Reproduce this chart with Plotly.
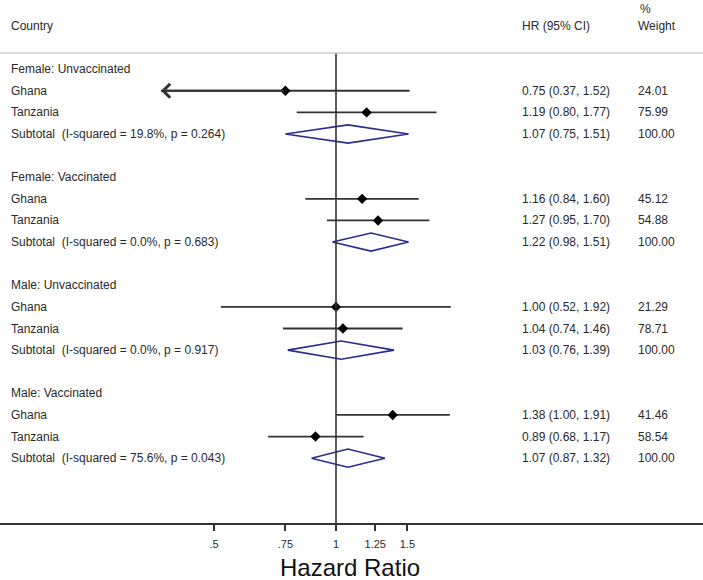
import numpy as np
import plotly.graph_objects as go

# ---------------- data ----------------
groups = ["Female: Unvaccinated", "Female: Vaccinated", "Male: Unvaccinated", "Male: Vaccinated"]
countries = ["Ghana", "Tanzania"]
hr = [[0.75, 1.19], [1.16, 1.27], [1.00, 1.04], [1.38, 0.89]]
ci_lo = [[0.37, 0.80], [0.84, 0.95], [0.52, 0.74], [1.00, 0.68]]
ci_hi = [[1.52, 1.77], [1.60, 1.70], [1.92, 1.46], [1.91, 1.17]]
weights = [[24.01, 75.99], [45.12, 54.88], [21.29, 78.71], [41.46, 58.54]]
clipped_left = [[True, False], [False, False], [False, False], [False, False]]
sub_hr = [1.07, 1.22, 1.03, 1.07]
sub_lo = [0.75, 0.98, 0.76, 0.87]
sub_hi = [1.51, 1.51, 1.39, 1.32]
i_squared = [19.8, 0.0, 0.0, 75.6]
p_het = [0.264, 0.683, 0.917, 0.043]
tick_vals = [0.5, 0.75, 1, 1.25, 1.5]
tick_text = [".5", ".75", "1", "1.25", "1.5"]
NULL_HR = 1.0

# ---------------- style ----------------
W, H = 703, 580
BOTTOM = 57
PLOT_H = H - BOTTOM
FONT = "Liberation Sans, Arial, sans-serif"
TXT = "#2a2a2a"
LINE = "#333333"
NAVY = "#2B2D8E"
DIAM_H = 0.42
X_LABEL, X_HR, X_W = 9, 520, 636

def px(x):
    return x / W

fig = go.Figure()
ann = []

def text(x, y, s, size=12, color=TXT):
    ann.append(dict(x=px(x), xref="paper", y=y, yref="y", text=s, showarrow=False,
                    xanchor="left", yanchor="middle",
                    font=dict(family=FONT, size=size, color=color)))

# header
text(X_LABEL, -1, "Country")
text(X_HR, -1, "HR (95% CI)")
text(X_W + 2, -1.8, "%")
text(X_W, -1, "Weight")

for g, name in enumerate(groups):
    base = 1 + 5 * g
    text(X_LABEL, base, name)
    for c, cname in enumerate(countries):
        r = base + 1 + c
        text(X_LABEL, r, cname)
        fig.add_trace(go.Scatter(x=[ci_lo[g][c], ci_hi[g][c]], y=[r, r], mode="lines",
                                 line=dict(color=LINE, width=1.8), hoverinfo="skip", showlegend=False))
        fig.add_trace(go.Scatter(x=[hr[g][c]], y=[r], mode="markers",
                                 marker=dict(symbol="diamond", size=8, color="black"),
                                 hoverinfo="skip", showlegend=False))
        if clipped_left[g][c]:
            ann.append(dict(x=np.log10(ci_lo[g][c]), y=r, xref="x", yref="y",
                            ax=np.log10(hr[g][c]), ay=r, axref="x", ayref="y",
                            text="", showarrow=True, arrowhead=4, arrowsize=1.5,
                            arrowwidth=1.8, arrowcolor=LINE, standoff=0))
        text(X_HR, r, f"{hr[g][c]:.2f} ({ci_lo[g][c]:.2f}, {ci_hi[g][c]:.2f})")
        text(X_W, r, f"{weights[g][c]:.2f}")
    rs = base + 3
    text(X_LABEL, rs, f"Subtotal&nbsp;&nbsp;(I-squared = {i_squared[g]:.1f}%, p = {p_het[g]:.3f})")
    fig.add_trace(go.Scatter(x=[sub_lo[g], sub_hr[g], sub_hi[g], sub_hr[g], sub_lo[g]],
                             y=[rs, rs - DIAM_H, rs, rs + DIAM_H, rs], mode="lines",
                             line=dict(color=NAVY, width=1.6), hoverinfo="skip", showlegend=False))
    text(X_HR, rs, f"{sub_hr[g]:.2f} ({sub_lo[g]:.2f}, {sub_hi[g]:.2f})")
    text(X_W, rs, f"{100:.2f}")

AX_ROW = 22
# null line
fig.add_trace(go.Scatter(x=[NULL_HR, NULL_HR], y=[0.25, AX_ROW], mode="lines",
                         line=dict(color=LINE, width=1.6), hoverinfo="skip", showlegend=False))

# axis title
ann.append(dict(x=px(350), xref="paper", y=-(567 - PLOT_H) / PLOT_H, yref="paper",
                text="Hazard Ratio", showarrow=False, xanchor="center", yanchor="middle",
                font=dict(family=FONT, size=24, color="#111111")))

# x range: 176 px per ln unit, 1 at x=336
ppl = 176.0
lmin = -336 / ppl / np.log(10)
lmax = (W - 336) / ppl / np.log(10)

fig.update_layout(
    width=W, height=H,
    margin=dict(l=0, r=0, t=0, b=BOTTOM),
    paper_bgcolor="white", plot_bgcolor="white",
    annotations=ann,
    shapes=[dict(type="line", xref="paper", x0=0, x1=1, yref="y", y0=0.25, y1=0.25,
                 line=dict(color="#D0D0D0", width=1.5))],
    xaxis=dict(type="log", range=[lmin, lmax], showgrid=False, zeroline=False,
               showline=True, linecolor=LINE, linewidth=1.6,
               ticks="outside", ticklen=6, tickwidth=1.6, tickcolor=LINE,
               tickvals=tick_vals, ticktext=tick_text, ticklabelstandoff=4,
               tickfont=dict(family=FONT, size=11, color=TXT)),
    yaxis=dict(range=[AX_ROW, -2.2], visible=False, showgrid=False, zeroline=False),
)

fig.write_html("out.html", config={"displayModeBar": False},
               post_script="document.body.style.margin='0';document.body.style.overflow='hidden';")
